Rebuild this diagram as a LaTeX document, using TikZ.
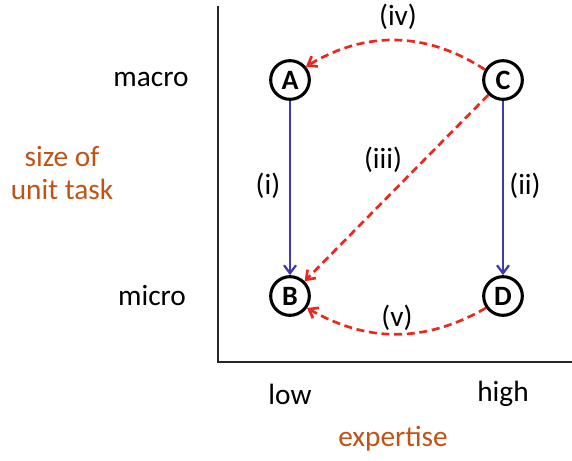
\documentclass[tikz,border=0pt]{standalone}
\usepackage{fontspec}
\setmainfont{Carlito}
\usetikzlibrary{arrows.meta}
\definecolor{brownlbl}{RGB}{191,84,22}
\definecolor{bluearr}{RGB}{62,58,178}
\definecolor{redarr}{RGB}{235,40,30}
\tikzset{
  st/.style={circle,draw=black,line width=2.3pt,minimum size=29pt,inner sep=0pt,font=\fontsize{21}{23}\selectfont\bfseries},
  lbl/.style={font=\fontsize{22}{26}\selectfont},
  blbl/.style={font=\fontsize{22}{25}\selectfont,text=brownlbl,align=center},
  bluea/.style={draw=bluearr,line width=1.7pt,-{Straight Barb[length=6pt,width=9pt]}},
  reda/.style={draw=redarr,line width=2pt,dash pattern=on 6pt off 3.5pt,-{Straight Barb[length=6pt,width=9pt]}}
}
\begin{document}
\begin{tikzpicture}[x=0.75pt,y=-0.75pt]
\useasboundingbox (0,0) rectangle (572,461);
\fill[white] (0,0) rectangle (572,461);
\coordinate (ytop) at (218,6);
\coordinate (orig) at (218,362);
\coordinate (xend) at (572,362);
\draw[line width=2pt,black!85] (ytop) -- (orig) -- (xend);
\node[st] (A) at (290,80) {A};
\node[st] (C) at (503,80) {C};
\node[st] (B) at (290,296) {B};
\node[st] (D) at (503,296) {D};
\node[lbl] (macro) at (151,79) {macro};
\node[lbl] (micro) at (152,296) {micro};
\node[blbl] (size) at (62,173) {size of\\unit task};
\node[lbl] (low) at (290,394) {low};
\node[lbl] (high) at (503,394) {high};
\node[blbl] (exp) at (393,439) {expertise};
\draw[bluea] (A) -- (B);
\draw[bluea] (C) -- (D);
\draw[reda] (C) -- (B);
\draw[reda] (C.150) to[bend right=32] (A.40);
\draw[reda] (D.215) to[bend left=30] (B.325);
\node[lbl] (iv) at (398,17) {(iv)};
\node[lbl] (iii) at (383,160) {(iii)};
\node[lbl] (i) at (268,186) {(i)};
\node[lbl] (ii) at (525,186) {(ii)};
\node[lbl] (v) at (397,318) {(v)};
\end{tikzpicture}
\end{document}
